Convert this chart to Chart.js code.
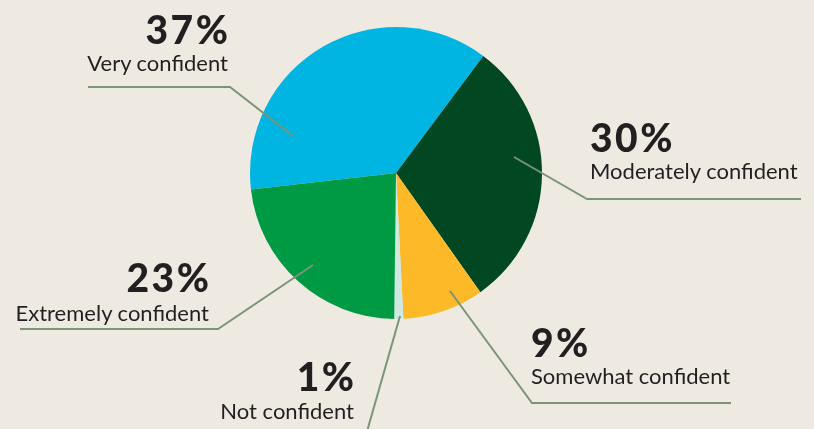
<!DOCTYPE html>
<html>
<head>
<meta charset="utf-8">
<script src="https://cdn.jsdelivr.net/npm/chart.js@4"></script>
<style>
  html, body { margin:0; padding:0; background:#eeeae2; }
  #wrap { position:relative; width:814px; height:429px; overflow:hidden; background:#eeeae2; }
  #c { position:absolute; left:0; top:0; }
  .lbl { position:absolute; color:#231f20; white-space:nowrap; line-height:1; font-family:Lato, "Noto Sans", sans-serif; }
  .pct { font-weight:900; font-size:39px; letter-spacing:2.5px; }
  .name { font-weight:400; font-size:22px; }
</style>
</head>
<body>
<div id="wrap">
  <canvas id="c" width="814" height="429"></canvas>
</div>
<script>
// ---- data ----
const categories = ["Very confident", "Moderately confident", "Somewhat confident", "Not confident", "Extremely confident"];
const values = [37, 30, 9, 1, 23];
const colors = ["#00b5e2", "#004722", "#fdb927", "#cfe8e2", "#009a44"];

// ---- label layout (annotation placement) ----
// align: 'r' = right edge at x, 'l' = left edge at x; pb / nb = baselines of percent / name
const labelLayout = [
  { align:'r', x:228, pb:45,  nb:72,  line:[[88,87],[230,87],[293,136]] },
  { align:'l', x:590, pb:153, nb:180, line:[[514,157],[587,199],[801,199]] },
  { align:'l', x:531, pb:358, nb:385, line:[[450,291],[532,403],[731,403]] },
  { align:'r', x:354, pb:392, nb:420, line:[[400,316],[366,435]] },
  { align:'r', x:209, pb:293, nb:322, line:[[20,329],[218,329],[313,265]] }
];
const lineColor = "#7a9478";
const pctSize = 39, nameSize = 22;

const wrap = document.getElementById('wrap');
function addText(txt, cls, fs, align, x, baseline, trim) {
  const d = document.createElement('div');
  d.className = 'lbl ' + cls;
  d.textContent = txt;
  d.style.top = (baseline - 0.887 * fs) + 'px';
  if (align === 'r') d.style.right = (814 - x - trim) + 'px'; else d.style.left = x + 'px';
  wrap.appendChild(d);
}
categories.forEach((name, i) => {
  const L = labelLayout[i];
  addText(values[i] + '%', 'pct', pctSize, L.align, L.x, L.pb, 2.5);
  addText(name, 'name', nameSize, L.align, L.x, L.nb, 0);
});

const leaderPlugin = {
  id: 'leaders',
  afterDatasetsDraw(chart) {
    const ctx = chart.ctx;
    ctx.save();
    ctx.strokeStyle = lineColor;
    ctx.lineWidth = 2;
    ctx.lineJoin = 'miter';
    labelLayout.forEach(L => {
      ctx.beginPath();
      L.line.forEach((p, j) => j ? ctx.lineTo(p[0], p[1]) : ctx.moveTo(p[0], p[1]));
      ctx.stroke();
    });
    ctx.restore();
  }
};

new Chart(document.getElementById('c'), {
  type: 'pie',
  data: {
    labels: categories,
    datasets: [{ data: values, backgroundColor: colors, borderWidth: 0 }]
  },
  options: {
    responsive: false,
    animation: false,
    rotation: -96.5,
    layout: { padding: { top: 27, bottom: 110, left: 250, right: 272 } },
    plugins: { legend: { display: false }, tooltip: { enabled: false } }
  },
  plugins: [leaderPlugin]
});
</script>
</body>
</html>
